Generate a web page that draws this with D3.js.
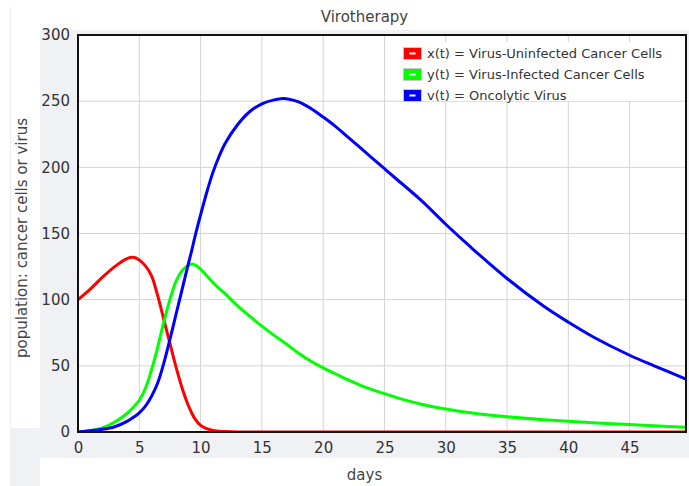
<!DOCTYPE html>
<html>
<head>
<meta charset="utf-8">
<script src="https://cdn.jsdelivr.net/npm/d3@7"></script>
<style>
  html, body { margin: 0; padding: 0; background: #fff; }
  svg { display: block; font-family: "DejaVu Sans", Verdana, sans-serif; }
</style>
</head>
<body>
<div id="chart"></div>
<script>
// days sampled along the curves
const days = [0, 1, 2, 3, 4, 4.5, 5, 5.5, 6, 6.5, 7, 7.5, 8, 8.5, 9, 9.3, 9.5, 10, 10.5, 11, 11.5, 12, 13, 14, 15, 16, 16.7, 17, 18, 19, 20, 21, 22, 23, 24, 25, 26, 28, 30, 32, 35, 38, 40, 42, 45, 47, 49.6];

// x(t) uninfected cancer cells
const xVals = [100, 108, 117, 125, 131, 132, 130, 125.5, 118, 103, 85, 67, 49, 33, 20, 14, 10.5, 5, 2.5, 1.2, 0.6, 0.3, 0, 0, 0, 0, 0, 0, 0, 0, 0, 0, 0, 0, 0, 0, 0, 0, 0, 0, 0, 0, 0, 0, 0, 0, 0];

// y(t) infected cancer cells
const yVals = [0, 1, 3, 7.5, 14, 18.5, 24, 33, 47, 64, 83, 100, 114, 122, 126, 127, 126.5, 123, 118, 113, 108.5, 104.5, 95.5, 87.5, 80, 73, 68.5, 66.5, 59.5, 53.5, 48.5, 44, 39.5, 35.5, 32, 29, 26, 21, 17.4, 14.5, 11.5, 9.3, 8.1, 7, 5.6, 4.7, 3.6];

// v(t) oncolytic virus
const vVals = [0, 1, 2, 4, 8, 11, 14.5, 19.5, 27, 37, 52, 70, 89, 108, 127, 138, 146, 164, 181, 196, 208, 218, 232, 242, 248, 251, 252, 251.8, 249.5, 244.5, 238, 231, 223, 215, 207, 199, 191, 175, 157, 140, 116, 95, 83, 72, 58, 50, 40];

const yTicks = [0, 50, 100, 150, 200, 250, 300];
const xTicks = [0, 5, 10, 15, 20, 25, 30, 35, 40, 45];

const series = [
  { key: 'x', label: 'x(t) = Virus-Uninfected Cancer Cells', color: '#ff0000', values: xVals },
  { key: 'y', label: 'y(t) = Virus-Infected Cancer Cells', color: '#00ff00', values: yVals },
  { key: 'v', label: 'v(t) = Oncolytic Virus', color: '#0000ff', values: vVals }
];

const width = 689, height = 486;
const margin = { top: 35, right: 3, bottom: 54, left: 78 };
const in_wi = width - margin.left - margin.right;
const in_he = height - margin.top - margin.bottom;

const svg = d3.select('#chart')
  .append('svg')
  .attr('width', width)
  .attr('height', height)
  .attr('viewBox', `0 0 ${width} ${height}`);

// page panels behind the chart
svg.append('line')
  .attr('x1', 10.5).attr('x2', 10.5).attr('y1', 7).attr('y2', height)
  .attr('stroke', '#eeeeee');
svg.append('rect')
  .attr('x', 40).attr('y', 30).attr('width', width - 40).attr('height', 428)
  .attr('fill', '#f0f1f4');
svg.append('rect')
  .attr('x', 10).attr('y', 428).attr('width', 30).attr('height', height - 428)
  .attr('fill', '#f0f1f4');

const x_sc = d3.scaleLinear().domain([0, 49.6]).range([0, in_wi]);
const y_sc = d3.scaleLinear().domain([0, 300]).range([in_he, 0]);

const g = svg.append('g')
  .attr('transform', `translate(${margin.left},${margin.top})`);

g.append('rect')
  .attr('width', in_wi).attr('height', in_he)
  .attr('fill', '#fff');

// grid
g.append('g')
  .selectAll('line')
  .data(xTicks.slice(1))
  .join('line')
  .attr('x1', d => x_sc(d)).attr('x2', d => x_sc(d))
  .attr('y1', 0).attr('y2', in_he)
  .attr('stroke', '#d4d4d4').attr('stroke-width', 1);

g.append('g')
  .selectAll('line')
  .data(yTicks.slice(1, -1))
  .join('line')
  .attr('x1', 0).attr('x2', in_wi)
  .attr('y1', d => y_sc(d)).attr('y2', d => y_sc(d))
  .attr('stroke', '#d4d4d4').attr('stroke-width', 1);

// tick labels
const xAxis = g.append('g')
  .attr('transform', `translate(0,${in_he})`)
  .call(d3.axisBottom(x_sc).tickValues(xTicks).tickSize(0).tickPadding(10));
const yAxis = g.append('g')
  .call(d3.axisLeft(y_sc).tickValues(yTicks).tickSize(0).tickPadding(8));
[xAxis, yAxis].forEach(a => {
  a.select('.domain').remove();
  a.selectAll('text')
    .style('font-family', '"DejaVu Sans", Verdana, sans-serif')
    .style('font-size', '15px')
    .attr('fill', '#333');
});

// curves
g.append('clipPath').attr('id', 'plot-clip')
  .append('rect').attr('width', in_wi).attr('height', in_he);

const line = d3.line()
  .x((d, i) => x_sc(days[i]))
  .y(d => y_sc(d))
  .curve(d3.curveCatmullRom.alpha(0.5));

g.append('g')
  .attr('clip-path', 'url(#plot-clip)')
  .selectAll('path')
  .data(series)
  .join('path')
  .attr('d', d => line(d.values))
  .attr('fill', 'none')
  .attr('stroke', d => d.color)
  .attr('stroke-width', 3)
  .attr('stroke-linejoin', 'round');

// frame
g.append('rect')
  .attr('width', in_wi).attr('height', in_he)
  .attr('fill', 'none')
  .attr('stroke', '#111')
  .attr('stroke-width', 2);

// legend
const lg = svg.append('g').attr('transform', 'translate(402,42)');
lg.append('rect')
  .attr('width', 278).attr('height', 59)
  .attr('fill', '#fff');
const it = lg.selectAll('.item')
  .data(series)
  .join('g')
  .attr('class', 'item')
  .attr('transform', (d, i) => `translate(0,${i * 21})`);
it.append('rect')
  .attr('x', 1.5).attr('y', 5.5).attr('width', 18).attr('height', 12)
  .attr('fill', d => d.color)
  .attr('stroke', '#c8c8c8');
it.append('rect')
  .attr('x', 7.5).attr('y', 10.5).attr('width', 6).attr('height', 2)
  .attr('fill', '#fff');
it.append('text')
  .attr('x', 25).attr('y', 16)
  .attr('fill', '#333')
  .style('font-size', '13px')
  .text(d => d.label);

// titles
svg.append('text')
  .attr('x', 364.5).attr('y', 22)
  .attr('text-anchor', 'middle')
  .attr('fill', '#444')
  .style('font-size', '15px')
  .text('Virotherapy');

svg.append('text')
  .attr('x', 364.5).attr('y', 480)
  .attr('text-anchor', 'middle')
  .attr('fill', '#444')
  .style('font-size', '15px')
  .text('days');

svg.append('text')
  .attr('transform', 'translate(27,238) rotate(-90)')
  .attr('text-anchor', 'middle')
  .attr('fill', '#444')
  .style('font-size', '15px')
  .text('population: cancer cells or virus');
</script>
</body>
</html>
